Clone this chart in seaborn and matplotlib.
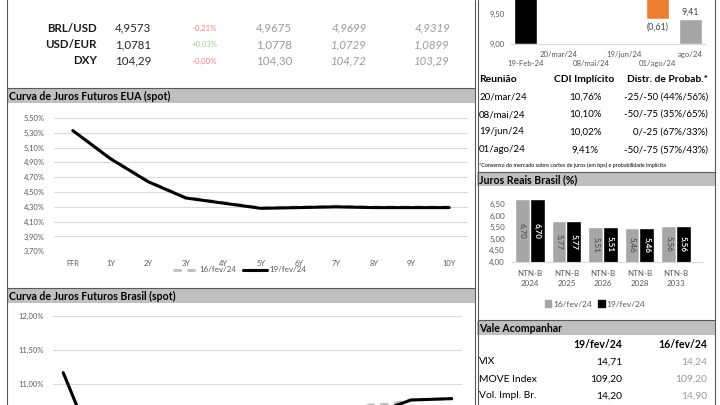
import matplotlib
matplotlib.use("Agg")
import matplotlib.pyplot as plt
from matplotlib.patches import Rectangle, Patch
from matplotlib.lines import Line2D
from matplotlib.ticker import FuncFormatter
import numpy as np
import pandas as pd
import seaborn as sns

# ---------------- data ----------------
fx_names = ["BRL/USD", "USD/EUR", "DXY"]
fx_decimals = [4, 4, 2]
fx_last = [4.9573, 1.0781, 104.29]
fx_change_pct = [-0.21, 0.03, -0.00]
fx_prev = [4.9675, 1.0778, 104.30]
fx_week = [4.9699, 1.0729, 104.72]
fx_month = [4.9319, 1.0899, 103.29]

us_tenors = ["FFR", "1Y", "2Y", "3Y", "4Y", "5Y", "6Y", "7Y", "8Y", "9Y", "10Y"]
us_16fev = [5.33, 4.96, 4.65, 4.43, 4.36, 4.29, 4.30, 4.31, 4.30, 4.30, 4.30]
us_19fev = [5.33, 4.95, 4.64, 4.42, 4.35, 4.28, 4.29, 4.30, 4.29, 4.29, 4.29]

br_vertices = ["mar/24", "abr/24", "jul/24", "out/24", "jan/25", "abr/25", "jul/25",
               "out/25", "jan/26", "abr/26", "jul/26", "out/26", "jan/27", "jul/27",
               "jan/28", "jan/29", "jan/30", "jan/31", "jan/32", "jan/33"]
br_16fev = [11.17, 10.45, 10.12, 10.00, 9.94, 9.95, 10.00, 10.07, 10.15, 10.23,
            10.31, 10.38, 10.45, 10.52, 10.60, 10.70, 10.71, 10.77, 10.78, 10.79]
br_19fev = [11.17, 10.44, 10.10, 9.98, 9.92, 9.93, 9.98, 10.05, 10.13, 10.21,
            10.29, 10.36, 10.43, 10.49, 10.55, 10.61, 10.66, 10.77, 10.78, 10.79]

cdi_current = 11.15
wf_labels = ["19-Feb-24", "20/mar/24", "08/mai/24", "19/jun/24", "01/ago/24", "ago/24"]
copom_meetings = ["20/mar/24", "08/mai/24", "19/jun/24", "01/ago/24"]
copom_cdi = [10.76, 10.10, 10.02, 9.41]
copom_probab = ["-25/-50 (44%/56%)", "-50/-75 (35%/65%)", "0/-25 (67%/33%)", "-50/-75 (57%/43%)"]

ntnb_labels = ["NTN-B\n2024", "NTN-B\n2025", "NTN-B\n2026", "NTN-B\n2028", "NTN-B\n2033"]
ntnb_16fev = [6.70, 5.77, 5.51, 5.46, 5.56]
ntnb_19fev = [6.70, 5.77, 5.51, 5.46, 5.56]

vale_names = ["VIX", "MOVE Index", "Vol. Impl. Br."]
vale_19fev = [14.71, 109.20, 14.20]
vale_16fev = [14.24, 109.20, 14.90]

# ---------------- style ----------------
sns.set_style("white")
plt.rcParams['font.family'] = ['Lato', 'DejaVu Sans']

W, H = 720, 405
fig = plt.figure(figsize=(7.2, 4.05), dpi=100)
fig.patch.set_facecolor('white')
bg = fig.add_axes([0, 0, 1, 1], zorder=0)
bg.set_xlim(0, W)
bg.set_ylim(H, 0)
bg.axis('off')

TICK = '#595959'
GRID = '#d9d9d9'
BORDER = '#595959'
HEAD = '#bfbfbf'


def br(v, d=2):
    return f"{v:.{d}f}".replace('.', ',')


def px_axes(x0, y0, x1, y1):
    ax = fig.add_axes([x0 / W, 1 - y1 / H, (x1 - x0) / W, (y1 - y0) / H], zorder=2)
    ax.set_facecolor('none')
    for s in ax.spines.values():
        s.set_visible(False)
    return ax


def header(x0, x1, y0, y1, title):
    bg.add_patch(Rectangle((x0, y0), x1 - x0, y1 - y0, fc=HEAD, ec='none'))
    bg.text(x0 + 2, (y0 + y1) / 2 + 0.5, title, fontweight='bold', fontsize=7.6,
            va='center', ha='left', color='black')


# ---------------- panels / borders ----------------
header(7, 475, 88, 103, "Curva de Juros Futuros EUA (spot)")
header(7, 475, 288, 303, "Curva de Juros Futuros Brasil (spot)")
header(477, 715, 172, 186, "Juros Reais Brasil (%)")
header(477, 715, 321, 335, "Vale Acompanhar")

for x in (7, 475):
    bg.plot([x, x], [0, H], color=BORDER, lw=0.8)
for x in (477.5, 715):
    bg.plot([x, x], [0, H], color=BORDER, lw=0.8)
for y in (87.5, 287.5):
    bg.plot([7, 475], [y, y], color=BORDER, lw=0.8)
for y in (171.5, 320):
    bg.plot([477.5, 715], [y, y], color=BORDER, lw=0.8)

# ---------------- FX table ----------------
rows_y = [28, 44.5, 61]
for i, y in enumerate(rows_y):
    d = fx_decimals[i]
    bg.text(97, y, fx_names[i], ha='right', va='center', fontsize=8.3, fontweight='bold', color='#1a1a1a')
    bg.text(151, y, br(fx_last[i], d), ha='right', va='center', fontsize=8.3, color='#262626')
    chg = fx_change_pct[i]
    col = '#ff7c80' if f"{chg:+.2f}".startswith('-') else '#a9d08e'
    bg.text(205, y, f"{chg:+.2f}%".replace('.', ','), ha='center', va='center', fontsize=5.6, color=col)
    bg.text(292, y, br(fx_prev[i], d), ha='right', va='center', fontsize=8.3, color='#9a9a9a')
    bg.text(367, y, br(fx_week[i], d), ha='right', va='center', fontsize=8.3, color='#9a9a9a', style='italic')
    bg.text(450, y, br(fx_month[i], d), ha='right', va='center', fontsize=8.3, color='#9a9a9a', style='italic')

# ---------------- US curve ----------------
ax_us = px_axes(54, 118, 468, 251.3)
sns.lineplot(x=us_tenors, y=us_16fev, ax=ax_us, color='#bfbfbf', lw=2.0, linestyle=(0, (3, 2)), sort=False)
sns.lineplot(x=us_tenors, y=us_19fev, ax=ax_us, color='black', lw=2.2, sort=False)
ax_us.set_xlim(-0.5, 10.5)
ax_us.set_ylim(3.7, 5.5)
ax_us.set_yticks(np.arange(3.7, 5.501, 0.2))
ax_us.yaxis.set_major_formatter(FuncFormatter(lambda v, p: br(v) + '%'))
ax_us.yaxis.grid(True, color=GRID, lw=0.8)
ax_us.xaxis.grid(False)
ax_us.tick_params(length=0, labelsize=5.4, colors=TICK)
ax_us.tick_params(axis='y', pad=6.5)
ax_us.tick_params(axis='x', pad=6.5)
ax_us.set_xlabel('')
ax_us.set_ylabel('')
leg_h = [Line2D([], [], color='#bfbfbf', lw=2.0, linestyle=(0, (3, 2))),
         Line2D([], [], color='black', lw=2.2)]
ax_us.legend(leg_h, ["16/fev/24", "19/fev/24"], loc='center', bbox_to_anchor=(240 / W, 1 - 270 / H),
             bbox_transform=fig.transFigure, ncol=2, frameon=False, fontsize=5.8, handlelength=3.0,
             columnspacing=0.8, handletextpad=0.3, labelcolor=TICK)

# ---------------- Brasil curve (lower part cut by the frame) ----------------
br_top_px, br_px_per_unit = 316, 68.3
ax_br = px_axes(53, br_top_px, 462, H)
sns.lineplot(x=br_vertices, y=br_16fev, ax=ax_br, color='#bfbfbf', lw=2.0, linestyle=(0, (3, 2)), sort=False)
sns.lineplot(x=br_vertices, y=br_19fev, ax=ax_br, color='black', lw=2.2, sort=False)
ax_br.set_xlim(-0.5, 19.5)
ax_br.set_ylim(12.0 - (H - br_top_px) / br_px_per_unit, 12.0)
ax_br.set_yticks([11.0, 11.5, 12.0])
ax_br.yaxis.set_major_formatter(FuncFormatter(lambda v, p: br(v) + '%'))
ax_br.yaxis.grid(True, color=GRID, lw=0.8)
ax_br.xaxis.grid(False)
ax_br.tick_params(length=0, labelsize=5.4, colors=TICK, labelbottom=False)
ax_br.tick_params(axis='y', pad=6.5)
ax_br.set_xlabel('')
ax_br.set_ylabel('')

# ---------------- Waterfall (CDI implícito, upper part cut by the frame) ----------------
wf_base_px, wf_px_per_unit = 44, 60
ax_wf = px_axes(510.6, 0, 705, wf_base_px)
levels = [cdi_current] + copom_cdi
xs = np.arange(len(wf_labels))
ax_wf.bar(xs[0], levels[0] - 9.0, bottom=9.0, width=0.7, color='black')
ax_wf.annotate(br(levels[0]), (xs[0], levels[0]), xytext=(0, 2), textcoords='offset points',
               ha='center', va='bottom', fontsize=6.3, color='#404040', annotation_clip=True)
for k in range(1, len(levels)):
    lo, hi = min(levels[k - 1], levels[k]), max(levels[k - 1], levels[k])
    ax_wf.bar(xs[k], hi - lo, bottom=lo, width=0.7, color='#ed7d31')
    ax_wf.annotate('(' + br(abs(levels[k] - levels[k - 1])) + ')', (xs[k], lo), xytext=(0, -2),
                   textcoords='offset points', ha='center', va='top', fontsize=6.3, color='#404040',
                   annotation_clip=True)
ax_wf.bar(xs[-1], levels[-1] - 9.0, bottom=9.0, width=0.7, color='#a5a5a5')
ax_wf.annotate(br(levels[-1]), (xs[-1], levels[-1]), xytext=(0, 2), textcoords='offset points',
               ha='center', va='bottom', fontsize=6.3, color='#404040', annotation_clip=True)
ax_wf.set_xlim(-0.45, 5.45)
ax_wf.set_ylim(9.0, 9.0 + wf_base_px / wf_px_per_unit)
ax_wf.set_yticks([9.0, 9.5])
ax_wf.yaxis.set_major_formatter(FuncFormatter(lambda v, p: br(v)))
ax_wf.set_xticks(xs[1::2])
ax_wf.set_xticklabels(wf_labels[1::2])
ax_wf.set_xticks(xs[0::2], minor=True)
ax_wf.set_xticklabels(wf_labels[0::2], minor=True)
ax_wf.spines['bottom'].set_visible(True)
ax_wf.spines['bottom'].set_color(GRID)
ax_wf.tick_params(which='both', length=0, labelsize=5.6, colors=TICK)
ax_wf.tick_params(axis='y', pad=4)
ax_wf.tick_params(axis='x', which='major', pad=5)
ax_wf.tick_params(axis='x', which='minor', pad=11.5)

# ---------------- Copom table ----------------
bg.text(479, 79, "Reunião", ha='left', va='center', fontsize=7.4, fontweight='bold', color='black')
bg.text(584, 79, "CDI Implícito", ha='center', va='center', fontsize=7.4, fontweight='bold', color='black')
bg.text(708, 79, "Distr. de Probab.*", ha='right', va='center', fontsize=7.4, fontweight='bold', color='black')
for i, y in enumerate([97, 114.5, 132, 150]):
    bg.text(479, y, copom_meetings[i], ha='left', va='center', fontsize=7.0, color='black')
    bg.text(585, y, br(copom_cdi[i]) + '%', ha='center', va='center', fontsize=7.0, color='black')
    bg.text(708, y, copom_probab[i], ha='right', va='center', fontsize=7.0, color='black')
bg.text(479, 165, "*Consenso do mercado sobre cortes de juros (em bps) e probabilidade implícita",
        ha='left', va='center', fontsize=3.9, color='black')

# ---------------- Juros Reais ----------------
ax_jr = px_axes(512, 262 - 3 * 23.2, 703, 262)
df_jr = pd.DataFrame({
    'bond': ntnb_labels * 2,
    'valor': ntnb_16fev + ntnb_19fev,
    'data': ['16/fev/24'] * len(ntnb_labels) + ['19/fev/24'] * len(ntnb_labels),
})
sns.barplot(data=df_jr, x='bond', y='valor', hue='data', ax=ax_jr, width=0.8, saturation=1,
            palette={'16/fev/24': '#a6a6a6', '19/fev/24': 'black'}, legend=False)
ax_jr.set_xlim(-0.49, 4.74)
ax_jr.set_ylim(4.0, 7.0)
ax_jr.set_yticks(np.arange(4.0, 6.51, 0.5))
ax_jr.yaxis.set_major_formatter(FuncFormatter(lambda v, p: br(v)))
ax_jr.spines['bottom'].set_visible(True)
ax_jr.spines['bottom'].set_color(GRID)
ax_jr.tick_params(length=0, labelsize=5.8, colors=TICK)
ax_jr.tick_params(axis='y', pad=5)
ax_jr.tick_params(axis='x', pad=6)
for lab in ax_jr.get_xticklabels():
    lab.set_linespacing(1.5)
ax_jr.set_xlabel('')
ax_jr.set_ylabel('')
ax_jr.bar_label(ax_jr.containers[0], labels=[br(v) for v in ntnb_16fev], label_type='center',
                rotation=-90, fontsize=5.8, color='#404040')
ax_jr.bar_label(ax_jr.containers[1], labels=[br(v) for v in ntnb_19fev], label_type='center',
                rotation=-90, fontsize=5.8, color='white', fontweight='bold')
ax_jr.legend([Patch(color='#a6a6a6'), Patch(color='black')], ['16/fev/24', '19/fev/24'],
             loc='center', bbox_to_anchor=(595 / W, 1 - 304 / H), bbox_transform=fig.transFigure,
             ncol=2, frameon=False, fontsize=6, handlelength=0.8, handleheight=0.8,
             handletextpad=0.2, columnspacing=0.8, labelcolor=TICK)

# ---------------- Vale Acompanhar ----------------
bg.text(622, 345, "19/fev/24", ha='right', va='center', fontsize=7.6, fontweight='bold', color='black')
bg.text(707, 345, "16/fev/24", ha='right', va='center', fontsize=7.6, fontweight='bold', color='black')
for i, y in enumerate([362, 379.5, 396]):
    bg.text(479, y, vale_names[i], ha='left', va='center', fontsize=7.4, color='black')
    bg.text(622, y, br(vale_19fev[i]), ha='right', va='center', fontsize=7.4, color='black')
    bg.text(707, y, br(vale_16fev[i]), ha='right', va='center', fontsize=7.4, color='#9a9a9a')

fig.savefig("out.png", dpi=100)
